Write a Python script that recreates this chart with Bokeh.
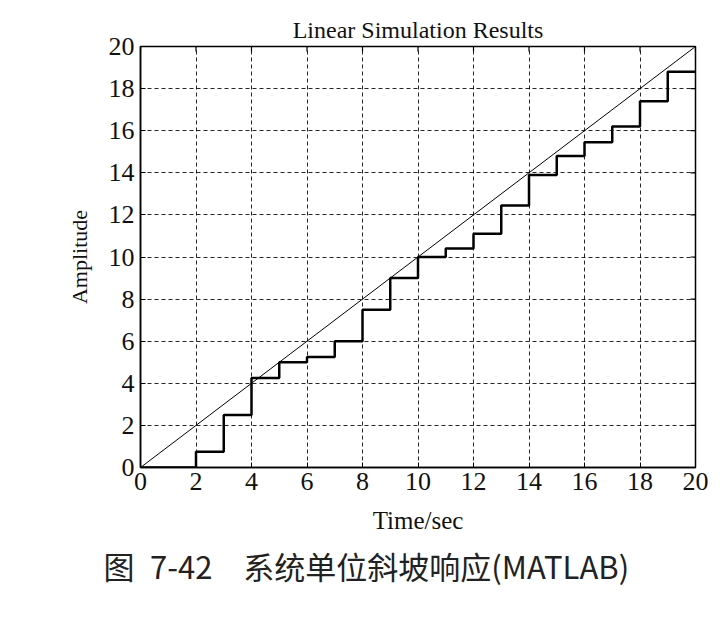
from bokeh.plotting import figure
from bokeh.models import FixedTicker, Range1d, Title
from bokeh.embed import file_html
from bokeh.resources import INLINE

# ---- data ----
ramp_t = [0, 20]
ramp_y = [0, 20]
time_s = list(range(20))
step_amp = [0, 0, 0.75, 2.5, 4.25, 5.0, 5.25, 6.0, 7.5, 9.0,
            10.0, 10.4, 11.1, 12.45, 13.9, 14.8, 15.45, 16.2, 17.4, 18.8]
x_ticks = list(range(0, 21, 2))
y_ticks = list(range(0, 21, 2))
title_txt = "Linear Simulation Results"
xlabel = "Time/sec"
ylabel = "Amplitude"
caption = "图\u20027-42\u3000系统单位斜坡响应(MATLAB)"

SERIF = "Liberation Serif"
CJK = "Noto Sans CJK SC"

XMIN, XMAX, YMIN, YMAX = 0, 20, 0, 20

p = figure(width=720, height=620, output_backend="svg", toolbar_location=None,
           x_range=Range1d(XMIN, XMAX), y_range=Range1d(YMIN, YMAX),
           min_border_left=140, min_border_right=25, min_border_top=46,
           min_border_bottom=153)

p.background_fill_color = "white"
p.border_fill_color = "white"
p.outline_line_color = "black"
p.outline_line_width = 1.5

# title
p.title.text = title_txt
p.title.align = "center"
p.title.text_font = SERIF
p.title.text_font_size = "24px"
p.title.text_font_style = "normal"
p.title.text_color = "#111111"
p.title.standoff = 8

for ax in (p.xaxis[0], p.yaxis[0]):
    ax.major_label_text_font = SERIF
    ax.major_label_text_font_size = "26px"
    ax.major_label_text_color = "#111111"
    ax.axis_label_text_font = SERIF
    ax.axis_label_text_font_style = "normal"
    ax.axis_label_text_color = "#111111"
    ax.major_tick_in = 5
    ax.major_tick_out = 0
    ax.minor_tick_in = 0
    ax.minor_tick_out = 0
    ax.axis_line_color = "black"
    ax.axis_line_width = 1.5
    ax.major_tick_line_color = "black"

p.xaxis[0].ticker = FixedTicker(ticks=x_ticks)
p.yaxis[0].ticker = FixedTicker(ticks=y_ticks)
p.xaxis[0].axis_label = xlabel
p.yaxis[0].axis_label = ylabel
p.xaxis[0].axis_label_text_font_size = "25px"
p.yaxis[0].axis_label_text_font_size = "22px"
p.xaxis[0].major_label_standoff = 5
p.xaxis[0].axis_label_standoff = 14
p.yaxis[0].major_label_standoff = 6
p.yaxis[0].axis_label_standoff = 14

# grid
for g in (p.xgrid[0], p.ygrid[0]):
    g.grid_line_color = "black"
    g.grid_line_dash = "4 3"
    g.grid_line_width = 1
    g.grid_line_alpha = 0.85
p.xgrid[0].ticker = FixedTicker(ticks=x_ticks)
p.ygrid[0].ticker = FixedTicker(ticks=y_ticks)

# inward ticks on top and right edges (clipped to frame)
p.rect(x=x_ticks, y=[YMAX] * len(x_ticks), width=1.2, height=10,
       width_units="screen", height_units="screen",
       fill_color="black", line_color=None)
p.rect(x=[XMAX] * len(y_ticks), y=y_ticks, width=10, height=1.2,
       width_units="screen", height_units="screen",
       fill_color="black", line_color=None)

# lines
p.line(ramp_t, ramp_y, line_color="black", line_width=1)
p.step(time_s + [XMAX], step_amp + [step_amp[-1]], mode="after",
       line_color="black", line_width=2.5)

# caption under the axis label
cap = Title(text=caption, align="left", offset=-37, standoff=9,
            text_font=CJK, text_font_size="31px", text_font_style="normal",
            text_color="#222222")
p.add_layout(cap, "below")

open("out.html", "w").write(file_html(p, INLINE))
